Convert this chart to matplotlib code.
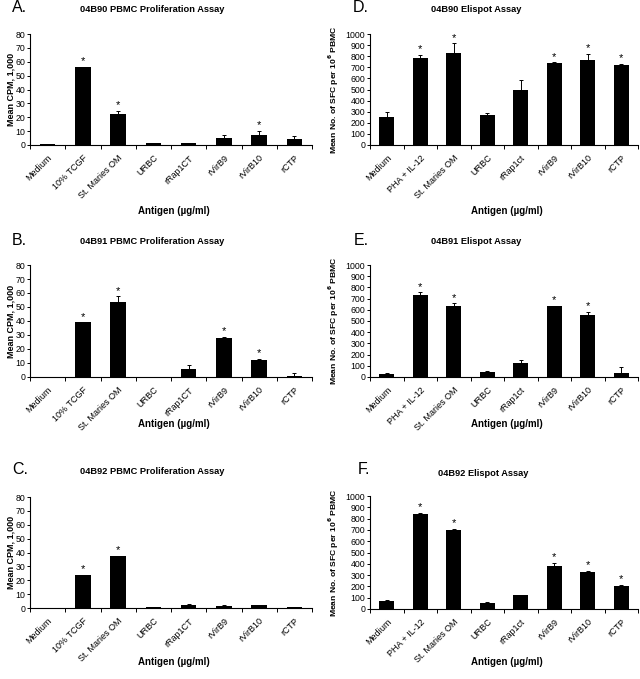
import matplotlib
matplotlib.use("Agg")
import matplotlib.pyplot as plt
import matplotlib.transforms as mtransforms
import numpy as np

plt.rcParams['font.family'] = ['Liberation Sans', 'DejaVu Sans']

prolif_cats = ["Medium", "10% TCGF", "St. Maries OM", "URBC", "rRap1CT", "rVirB9", "rVirB10", "rCTP"]
elispot_cats = ["Medium", "PHA + IL-12", "St. Maries OM", "URBC", "rRap1ct", "rVirB9", "rVirB10", "rCTP"]

A_vals = [0.6, 56.5, 22.6, 1.1, 1.3, 4.9, 7.3, 4.4]
A_err = [0.3, 0.0, 2.2, 0.3, 0.2, 2.2, 2.7, 2.2]
A_star = [0, 1, 1, 0, 0, 0, 1, 0]

B_vals = [0.3, 39.0, 53.8, 0.3, 6.0, 27.8, 12.3, 0.7]
B_err = [0.0, 0.0, 3.8, 0.0, 2.5, 0.6, 0.5, 1.9]
B_star = [0, 1, 1, 0, 0, 1, 1, 0]

C_vals = [0.0, 24.0, 37.4, 0.7, 2.3, 1.8, 2.2, 0.7]
C_err = [0.0, 0.0, 0.0, 0.3, 0.5, 0.3, 0.2, 0.3]
C_star = [0, 1, 1, 0, 0, 0, 0, 0]

D_vals = [250, 785, 825, 272, 492, 742, 768, 722]
D_err = [45, 30, 90, 12, 90, 3, 52, 12]
D_star = [0, 1, 1, 0, 0, 1, 1, 1]

E_vals = [30, 728, 632, 42, 125, 630, 556, 33]
E_err = [10, 28, 25, 8, 24, 5, 24, 52]
E_star = [0, 1, 1, 0, 0, 1, 1, 0]

F_vals = [74, 838, 703, 55, 127, 377, 328, 206]
F_err = [6, 15, 6, 6, 0, 33, 6, 6]
F_star = [0, 1, 1, 0, 0, 1, 1, 1]

W, H = 640, 679
fig = plt.figure(figsize=(W / 100, H / 100), dpi=100)


def px(x, y):
    return x / W, 1 - y / H


def make_axes(x0, x1, ytop, ybot):
    return fig.add_axes([x0 / W, 1 - ybot / H, (x1 - x0) / W, (ybot - ytop) / H])


panels = [
    ("A.", "04B90 PBMC Proliferation Assay", prolif_cats, A_vals, A_err, A_star, 80, 10,
     "Mean CPM, 1,000", (30, 312, 34, 145), (12, 8), (152, 9), 211, 11, 6.5),
    ("B.", "04B91 PBMC Proliferation Assay", prolif_cats, B_vals, B_err, B_star, 80, 10,
     "Mean CPM, 1,000", (30, 312, 265, 377), (12, 240), (152, 241), 424, 11, 6.5),
    ("C.", "04B92 PBMC Proliferation Assay", prolif_cats, C_vals, C_err, C_star, 80, 10,
     "Mean CPM, 1,000", (30, 312, 497, 608), (12, 469), (152, 472), 662, 11, 6.5),
    ("D.", "04B90 Elispot Assay", elispot_cats, D_vals, D_err, D_star, 1000, 100,
     "Mean No. of SFC per 10$^\\mathbf{6}$ PBMC", (370, 638, 34, 145), (353, 8), (476, 9), 211, 334, 6.1),
    ("E.", "04B91 Elispot Assay", elispot_cats, E_vals, E_err, E_star, 1000, 100,
     "Mean No. of SFC per 10$^\\mathbf{6}$ PBMC", (370, 638, 265, 377), (354, 240), (476, 241), 424, 334, 6.1),
    ("F.", "04B92 Elispot Assay", elispot_cats, F_vals, F_err, F_star, 1000, 100,
     "Mean No. of SFC per 10$^\\mathbf{6}$ PBMC", (370, 638, 496, 609), (358, 469), (483, 474), 662, 334, 6.1),
]

shift = mtransforms.ScaledTranslation(-2 / 72, 0, fig.dpi_scale_trans)

for (letter, title, cats, vals, err, star, ymax, ystep, ylabel, box, lpos, tpos, xly, ylx, ylfs) in panels:
    x0, x1, yt, yb = box
    ax = make_axes(x0, x1, yt, yb)
    x = np.arange(len(cats))
    ax.bar(x, vals, width=0.44, color='black', zorder=2)
    lower = np.zeros(len(vals))
    ax.errorbar(x, vals, yerr=[lower, err], fmt='none', ecolor='black',
                elinewidth=0.7, capsize=1.6, capthick=0.7, zorder=3)
    for xi, v, e, s in zip(x, vals, err, star):
        if s:
            ax.annotate("*", (xi, v + e), xytext=(0, 0.5), textcoords='offset points',
                        ha='center', va='bottom', fontsize=8)
    ax.set_xlim(-0.5, len(cats) - 0.5)
    ax.set_ylim(0, ymax)
    ax.set_yticks(np.arange(0, ymax + ystep / 2, ystep))
    ax.tick_params(axis='y', labelsize=6.3, length=2, width=0.7, pad=1.5, direction='out')
    ax.set_xticks(np.arange(-0.5, len(cats) + 0.5, 1.0))
    ax.set_xticklabels([])
    ax.set_xticks(x, minor=True)
    ax.set_xticklabels(cats, minor=True, rotation=45, ha='right', va='top',
                       rotation_mode='anchor', fontsize=6.5)
    for lab in ax.get_xticklabels(minor=True):
        lab.set_transform(lab.get_transform() + shift)
    ax.tick_params(axis='x', which='major', length=3, width=0.7, direction='out')
    ax.tick_params(axis='x', which='minor', length=0, pad=6)
    for sp in ['top', 'right']:
        ax.spines[sp].set_visible(False)
    for sp in ['left', 'bottom']:
        ax.spines[sp].set_linewidth(0.8)
    ax.set_facecolor('white')

    fig.text(*px(*lpos), letter, fontsize=11.5, ha='left', va='center')
    fig.text(*px(*tpos), title, fontsize=6.7, fontweight='bold', ha='center', va='center')
    fig.text(*px((x0 + x1) / 2 + 3, xly), "Antigen (µg/ml)",
             fontsize=7, fontweight='bold', ha='center', va='center')
    fig.text(*px(ylx, (yt + yb) / 2), ylabel, fontsize=ylfs, fontweight='bold',
             rotation=90, ha='center', va='center')

fig.savefig("out.png", dpi=100, facecolor='white')
